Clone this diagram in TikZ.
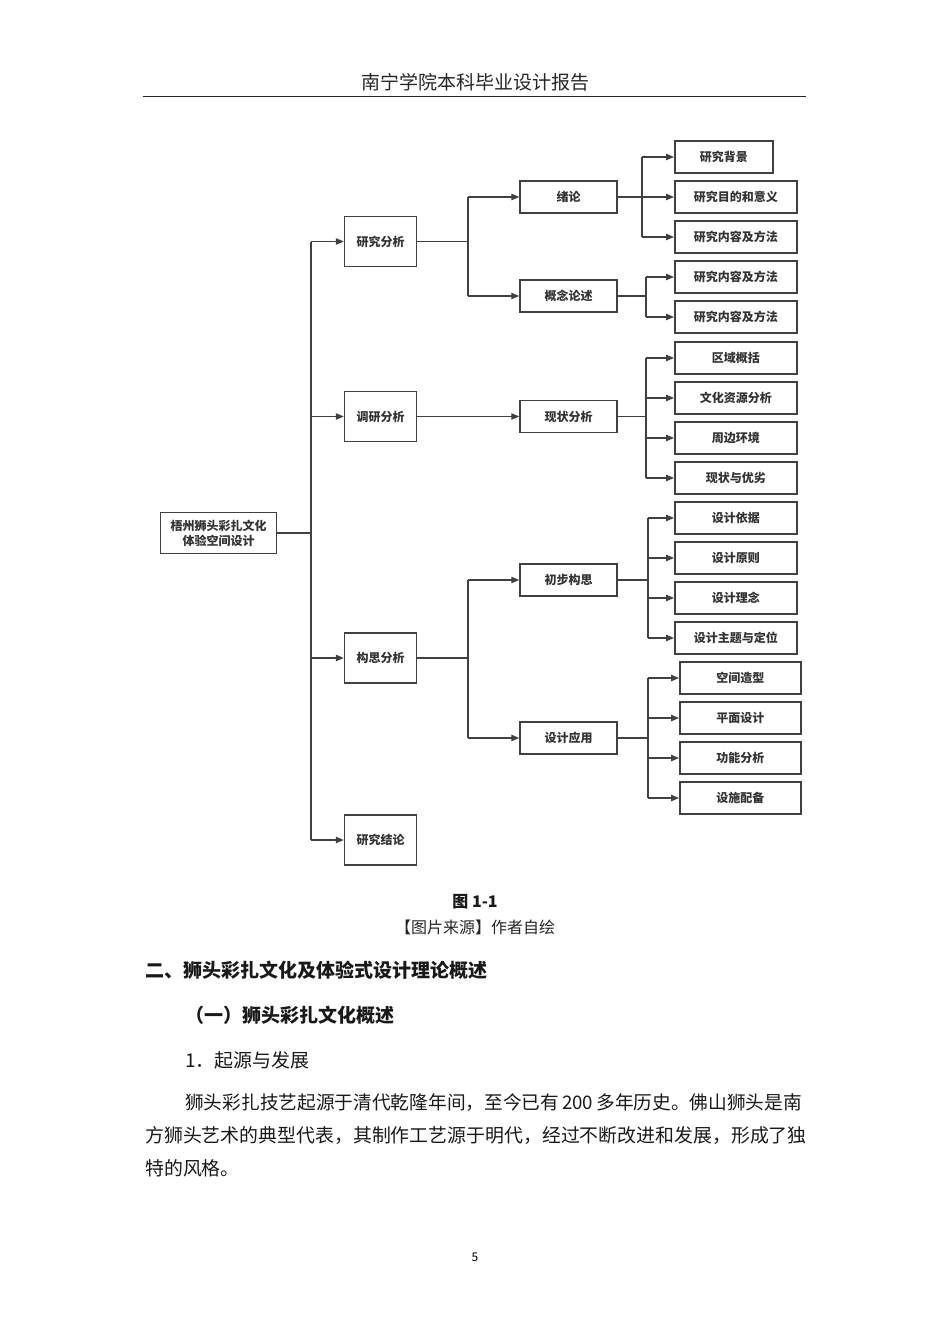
\documentclass[tikz,border=0pt]{standalone}
\usepackage{fontspec}
\setmainfont{Noto Sans CJK SC}
\usetikzlibrary{arrows.meta}
\definecolor{linegray}{HTML}{404040}
\definecolor{textgray}{HTML}{333333}
\begin{document}
\begin{tikzpicture}[x=1pt,y=-1pt,
  box/.style={draw=linegray, line width=1.5pt, fill=white, text=textgray,
    font=\bfseries\fontsize{12}{15}\selectfont, inner sep=0pt, minimum height=32pt},
  conn/.style={draw=linegray, line width=1.2pt},
  arr/.style={conn, -{Triangle[length=8pt,width=6.5pt]}},
  txt/.style={anchor=west, inner sep=0pt, text=black!90}]
\useasboundingbox (0,0) rectangle (950,1344);
% page header
\node[font=\fontsize{19}{19}\selectfont, text=black!85] (head) at (475,82) {南宁学院本科毕业设计报告};
\draw[line width=1pt, black!85] (143,96.5) -- (806,96.5);
% root
\node[box, minimum width=116pt, minimum height=41pt, align=center] (root) at (218.5,533) {梧州狮头彩扎文化\\体验空间设计};
% first level
\foreach \n/\y/\t in {ana/241.5/研究分析, sur/416.5/调研分析, con/658/构思分析, res/840/研究结论}
  \node[box, minimum width=72pt, minimum height=50pt] (\n) at (380.5,\y) {\t};
% second level
\foreach \n/\y/\t in {intro/197/绪论, conc/296/概念论述, stat/416.5/现状分析, idea/580/初步构思, appl/738/设计应用}
  \node[box, minimum width=97pt] (\n) at (568.5,\y) {\t};
% third level
\node[box, minimum width=98pt, anchor=west] (b1) at (674,157) {研究背景};
\foreach \n/\y/\t in {b2/197/研究目的和意义, b3/237/研究内容及方法, c1/277/研究内容及方法, c2/317/研究内容及方法,
  s1/358/区域概括, s2/398/文化资源分析, s3/438/周边环境, s4/478/现状与优劣,
  i1/518/设计依据, i2/558/设计原则, i3/598/设计理念, i4/638/设计主题与定位}
  \node[box, minimum width=122pt, anchor=west] (\n) at (674,\y) {\t};
\foreach \n/\y/\t in {p1/678/空间造型, p2/718/平面设计, p3/758/功能分析, p4/798/设施配备}
  \node[box, minimum width=121pt, anchor=west] (\n) at (679,\y) {\t};
% trunk
\coordinate (t) at (311,0);
\draw[conn] (root.east) -- (root.east -| t);
\draw[conn] (t |- ana) -- (t |- res);
\foreach \n in {ana,sur,con,res}
  \draw[arr] (t |- \n) -- (\n.west);
% first to second level
\coordinate (u) at (468,0);
\draw[conn] (ana.east) -- (ana.east -| u) (u |- intro) -- (u |- conc);
\draw[conn] (con.east) -- (con.east -| u) (u |- idea) -- (u |- appl);
\foreach \n in {intro,conc,idea,appl}
  \draw[arr] (u |- \n) -- (\n.west);
\draw[arr] (sur.east) -- (stat.west);
% second to third level
\foreach \p/\bx/\first/\last/\kids in {intro/642/b1/b3/{b1,b2,b3}, conc/646/c1/c2/{c1,c2},
  stat/646/s1/s4/{s1,s2,s3,s4}, idea/648/i1/i4/{i1,i2,i3,i4}, appl/648/p1/p4/{p1,p2,p3,p4}} {
  \coordinate (v) at (\bx,0);
  \draw[conn] (\p.east) -- (\p.east -| v) (v |- \first) -- (v |- \last);
  \foreach \k in \kids
    \draw[arr] (v |- \k) -- (\k.west);
}
% caption and text
\node[font=\bfseries\fontsize{16}{16}\selectfont, text=black!90] (cap) at (475,902) {图 1-1};
\node[font=\fontsize{16}{16}\selectfont, text=black!85] (src) at (475,927) {【图片来源】作者自绘};
\node[txt, font=\bfseries\fontsize{19}{19}\selectfont] (sec) at (145,970) {二、狮头彩扎文化及体验式设计理论概述};
\node[txt, font=\bfseries\fontsize{19}{19}\selectfont] (sub) at (185,1015) {（一）狮头彩扎文化概述};
\node[txt, font=\fontsize{19}{19}\selectfont] (item) at (185,1060) {1．起源与发展};
\node[txt, font=\fontsize{18.7}{19}\selectfont] (l1) at (185,1103) {狮头彩扎技艺起源于清代乾隆年间，至今已有\hspace{3pt}200\hspace{3pt}多年历史。佛山狮头是南};
\node[txt, font=\fontsize{18.9}{19}\selectfont] (l2) at (145,1136) {方狮头艺术的典型代表，其制作工艺源于明代，经过不断改进和发展，形成了独};
\node[txt, font=\fontsize{18.9}{19}\selectfont] (l3) at (145,1168) {特的风格。};
\node[font=\fontsize{12}{12}\selectfont] (pg) at (475,1257) {5};
\end{tikzpicture}
\end{document}
